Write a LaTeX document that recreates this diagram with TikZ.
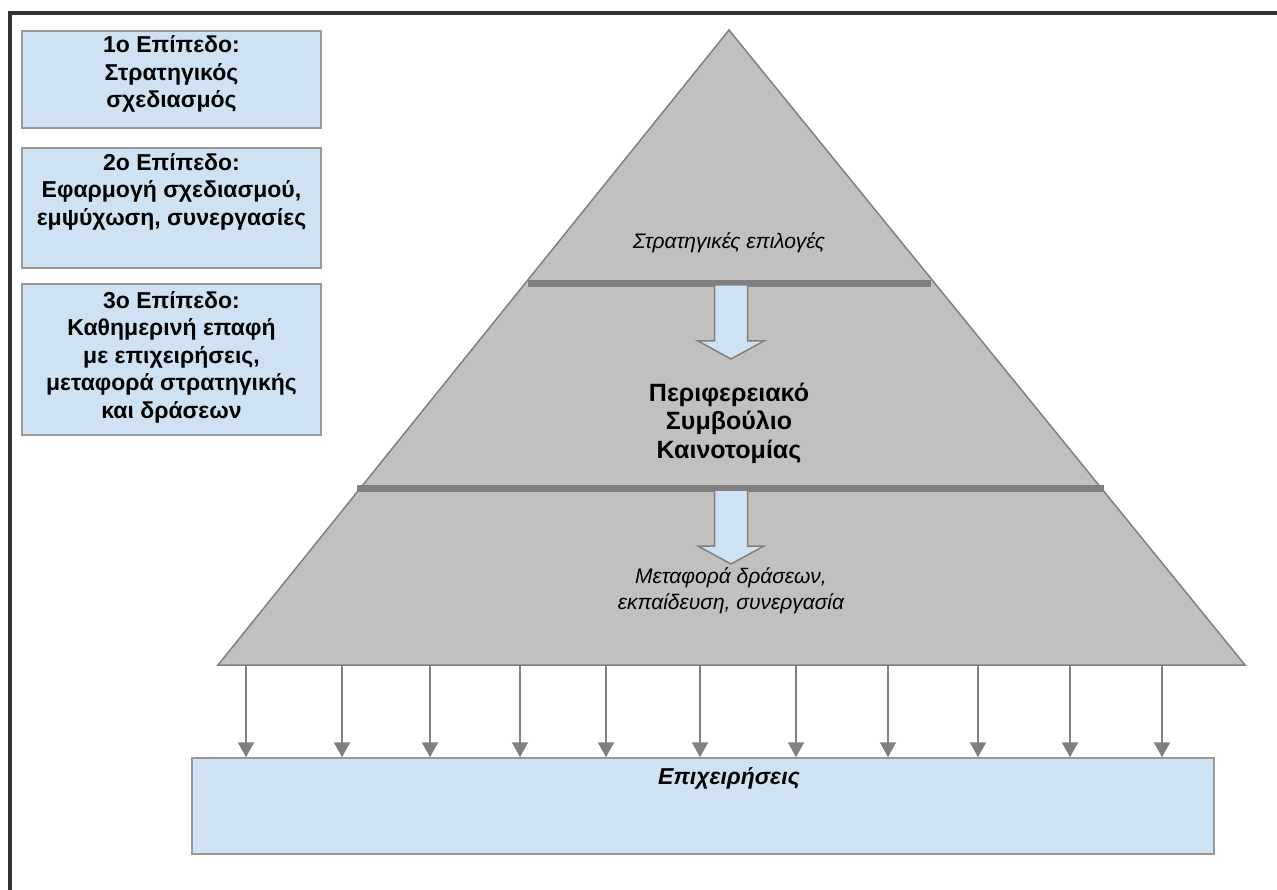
\documentclass[tikz,border=0pt]{standalone}
\usepackage{fontspec}
\setmainfont{Liberation Sans}
\usepackage{tikz}
\usetikzlibrary{
  arrows.meta,
  calc,
  positioning,
}
\definecolor{boxblue}{RGB}{207, 226, 243}
\definecolor{pyrgray}{RGB}{192, 192, 192}
\definecolor{edgegray}{RGB}{128, 128, 128}
\definecolor{bargray}{RGB}{127, 127, 127}
\definecolor{framegray}{RGB}{51, 51, 51}
\tikzstyle{levelbox} = [
  fill=boxblue,
  draw=edgegray!80,
  line width=1.5pt,
]
\tikzstyle{leveltext} = [
  align=center,
  font=\bfseries\fontsize{23}{27.5}\selectfont,
  inner sep=0pt,
]
\tikzstyle{pyramid} = [
  fill=pyrgray,
  draw=edgegray,
  line width=1.5pt,
  line join=miter,
]
\tikzstyle{flow} = [
  fill=boxblue,
  draw=edgegray,
  line width=1.5pt,
]
\tikzstyle{arrow} = [
  -{Triangle[width=16pt,length=15pt]},
  line width=2pt,
  edgegray,
]

\begin{document}
\begin{tikzpicture}[x=1pt, y=-1pt]
  \useasboundingbox (0, 0) rectangle (1277, 890);

  % frame
  \draw [framegray, line width=4pt] (10, 890) -- (10, 13) -- (1277, 13);

  % levels
  \draw [levelbox] (22, 31) rectangle (321, 128);
  \draw [levelbox] (22, 148) rectangle (321, 268);
  \draw [levelbox] (22, 284) rectangle (321, 435);

  \node [leveltext] (level1) at (171.5, 74) {1ο Επίπεδο:\\Στρατηγικός\\σχεδιασμός};
  \node [leveltext] (level2) at (171.5, 191.5) {2ο Επίπεδο:\\Εφαρμογή σχεδιασμού,\\εμψύχωση, συνεργασίες};
  \node [leveltext] (level3) at (171.5, 357) {3ο Επίπεδο:\\Καθημερινή επαφή\\με επιχειρήσεις,\\μεταφορά στρατηγικής\\και δράσεων};

  % pyramid
  \draw [pyramid] (729, 30) -- (1245, 665) -- (218, 665) -- cycle;
  \fill [bargray] (528, 280) rectangle (931, 287);
  \fill [bargray] (357, 484.5) rectangle (1104, 491.5);

  \foreach \t in {285, 490} {
    \draw [flow] (714.5, \t) -- (747.5, \t) -- (747.5, \t+56) -- (764, \t+56)
      -- (731, \t+74) -- (698, \t+56) -- (714.5, \t+56) -- cycle;
  }

  \node [font=\itshape\fontsize{21}{26}\selectfont] (choices) at (729, 243) {Στρατηγικές επιλογές};
  \node [align=center, font=\bfseries\fontsize{25}{28.5}\selectfont] (council) at (729, 423)
    {Περιφερειακό\\Συμβούλιο\\Καινοτομίας};
  \node [align=center, font=\itshape\fontsize{21}{26}\selectfont] (transfer) at (731, 591)
    {Μεταφορά δράσεων,\\εκπαίδευση, συνεργασία};

  % firms
  \node [levelbox, minimum width=1022pt, minimum height=96pt] (firms) at (703, 806) {};
  \node [font=\bfseries\itshape\fontsize{23}{26}\selectfont] (firmslabel) at (729, 778) {Επιχειρήσεις};

  \foreach \x in {246, 342, 430, 520, 606, 700, 796, 888, 978, 1070, 1162}
    \draw [arrow] (\x, 665) -- (\x, 0 |- firms.north);
\end{tikzpicture}
\end{document}
